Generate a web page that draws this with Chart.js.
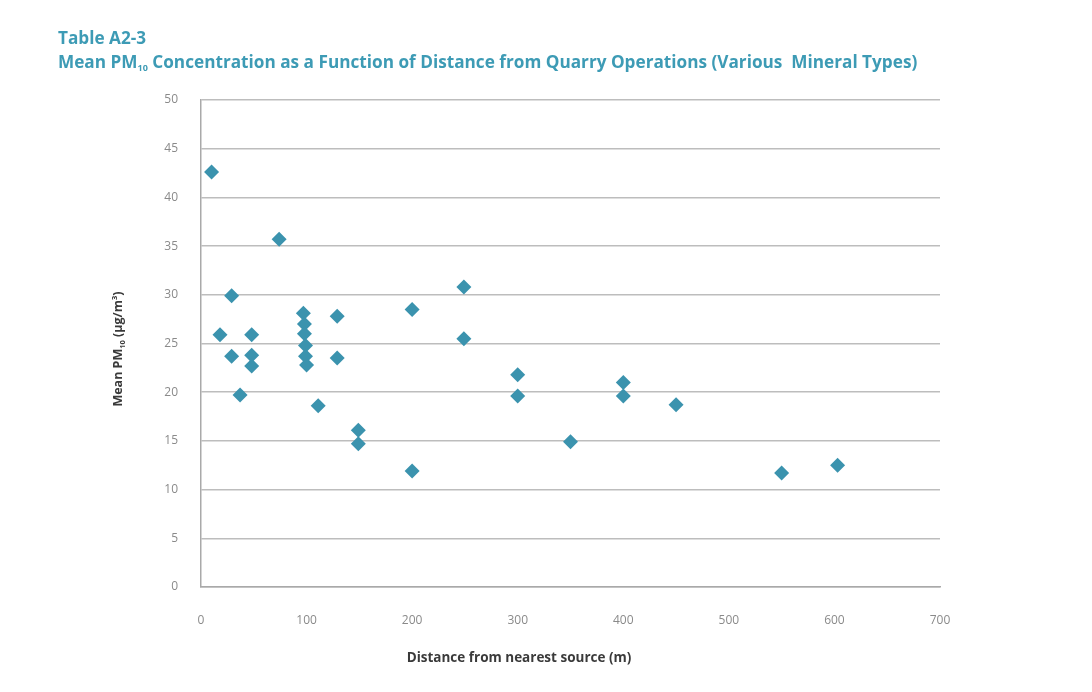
<!DOCTYPE html>
<html>
<head>
<meta charset="utf-8">
<script src="https://cdn.jsdelivr.net/npm/chart.js@4.4.1/dist/chart.umd.min.js"></script>
<style>
  html, body { margin: 0; padding: 0; background: #ffffff; }
  #wrap { position: relative; width: 1092px; height: 692px; overflow: hidden; }
  #chart { position: absolute; left: 0; top: 0; }
  .title { position: absolute; left: 58px; font-family: "Open Sans", sans-serif; font-weight: 700;
           color: #3d9bb5; font-size: 17.2px; white-space: nowrap; line-height: 22px; }
  #t1 { top: 27px; }
  #t2 { top: 51px; }
  .title sub { font-size: 9px; vertical-align: -3px; }
</style>
</head>
<body>
<div id="wrap">
  <canvas id="chart" width="1092" height="692"></canvas>
  <div class="title" id="t1">Table A2-3</div>
  <div class="title" id="t2">Mean PM<sub>10</sub> Concentration as a Function of Distance from Quarry Operations (Various&nbsp; Mineral Types)</div>
</div>
<script>
// Distance from nearest source (m) for each monitoring site
const distances = [10, 18, 29, 29, 37, 48, 48, 48, 74,
  97, 98, 98, 99, 99, 100, 111, 129, 129, 149, 149,
  200, 200, 249, 249, 300, 300, 350, 400, 400, 450, 550, 603];
// Mean PM10 concentration (µg/m³) at each site
const pm10 = [42.6, 25.9, 29.9, 23.7, 19.7, 25.9, 23.8, 22.7, 35.7,
  28.1, 27.0, 26.0, 24.8, 23.7, 22.8, 18.6, 27.8, 23.5, 16.1, 14.7,
  28.5, 11.9, 30.8, 25.5, 21.8, 19.6, 14.9, 21.0, 19.6, 18.7, 11.7, 12.5];

const xTicks = [0, 100, 200, 300, 400, 500, 600, 700];
const yTicks = [0, 5, 10, 15, 20, 25, 30, 35, 40, 45, 50];

const points = distances.map((d, i) => ({ x: d, y: pm10[i] }));

// Axis titles drawn by hand so PM10 and m3 get real sub/superscripts
const axisTitles = {
  id: 'axisTitles',
  afterDraw(chart) {
    const ctx = chart.ctx;
    ctx.save();
    ctx.fillStyle = '#3a3a3a';
    ctx.textBaseline = 'alphabetic';

    // x-axis title
    ctx.font = 'bold 13.5px "Open Sans", sans-serif';
    ctx.textAlign = 'center';
    ctx.fillText('Distance from nearest source (m)', 519, 662);

    // y-axis title (rotated), built from pieces
    const pieces = [
      { t: 'Mean PM', size: 12.5, dy: 0 },
      { t: '10', size: 7.5, dy: 3 },
      { t: ' (\u00B5g/m', size: 12.5, dy: 0 },
      { t: '3', size: 7.5, dy: -5 },
      { t: ')', size: 12.5, dy: 0 }
    ];
    let total = 0;
    pieces.forEach(p => {
      ctx.font = 'bold ' + p.size + 'px "Open Sans", sans-serif';
      p.w = ctx.measureText(p.t).width;
      total += p.w;
    });
    ctx.translate(117, 349);
    ctx.rotate(-Math.PI / 2);
    ctx.textAlign = 'left';
    let cx = -total / 2;
    pieces.forEach(p => {
      ctx.font = 'bold ' + p.size + 'px "Open Sans", sans-serif';
      ctx.fillText(p.t, cx, 4.5 + p.dy);
      cx += p.w;
    });
    ctx.restore();
  }
};

new Chart(document.getElementById('chart'), {
  type: 'scatter',
  data: {
    datasets: [{
      data: points,
      pointStyle: 'rectRot',
      pointRadius: 7.5,
      pointHoverRadius: 7.5,
      backgroundColor: '#3b93ae',
      borderColor: '#3b93ae',
      borderWidth: 0
    }]
  },
  options: {
    responsive: false,
    animation: false,
    layout: { padding: { top: 100, left: 0, right: 152, bottom: 0 } },
    plugins: { legend: { display: false }, tooltip: { enabled: false }, title: { display: false } },
    scales: {
      x: {
        type: 'linear',
        min: xTicks[0],
        max: xTicks[xTicks.length - 1],
        afterBuildTicks: axis => { axis.ticks = xTicks.map(v => ({ value: v })); },
        afterFit: axis => { axis.height = 105; },
        grid: { display: false, drawTicks: false },
        border: { display: true, color: '#a9a9a9', width: 1.5 },
        ticks: {
          padding: 26,
          color: '#8a8a8a',
          font: { family: '"Open Sans", sans-serif', size: 12 }
        }
      },
      y: {
        type: 'linear',
        min: yTicks[0],
        max: yTicks[yTicks.length - 1],
        afterBuildTicks: axis => { axis.ticks = yTicks.map(v => ({ value: v })); },
        afterFit: axis => { axis.width = 201; },
        grid: { display: true, drawTicks: false, color: '#bdbdbd', lineWidth: 1.5 },
        border: { display: true, color: '#a9a9a9', width: 1.5 },
        ticks: {
          padding: 23,
          color: '#8a8a8a',
          font: { family: '"Open Sans", sans-serif', size: 12 }
        }
      }
    }
  },
  plugins: [axisTitles]
});
</script>
</body>
</html>
